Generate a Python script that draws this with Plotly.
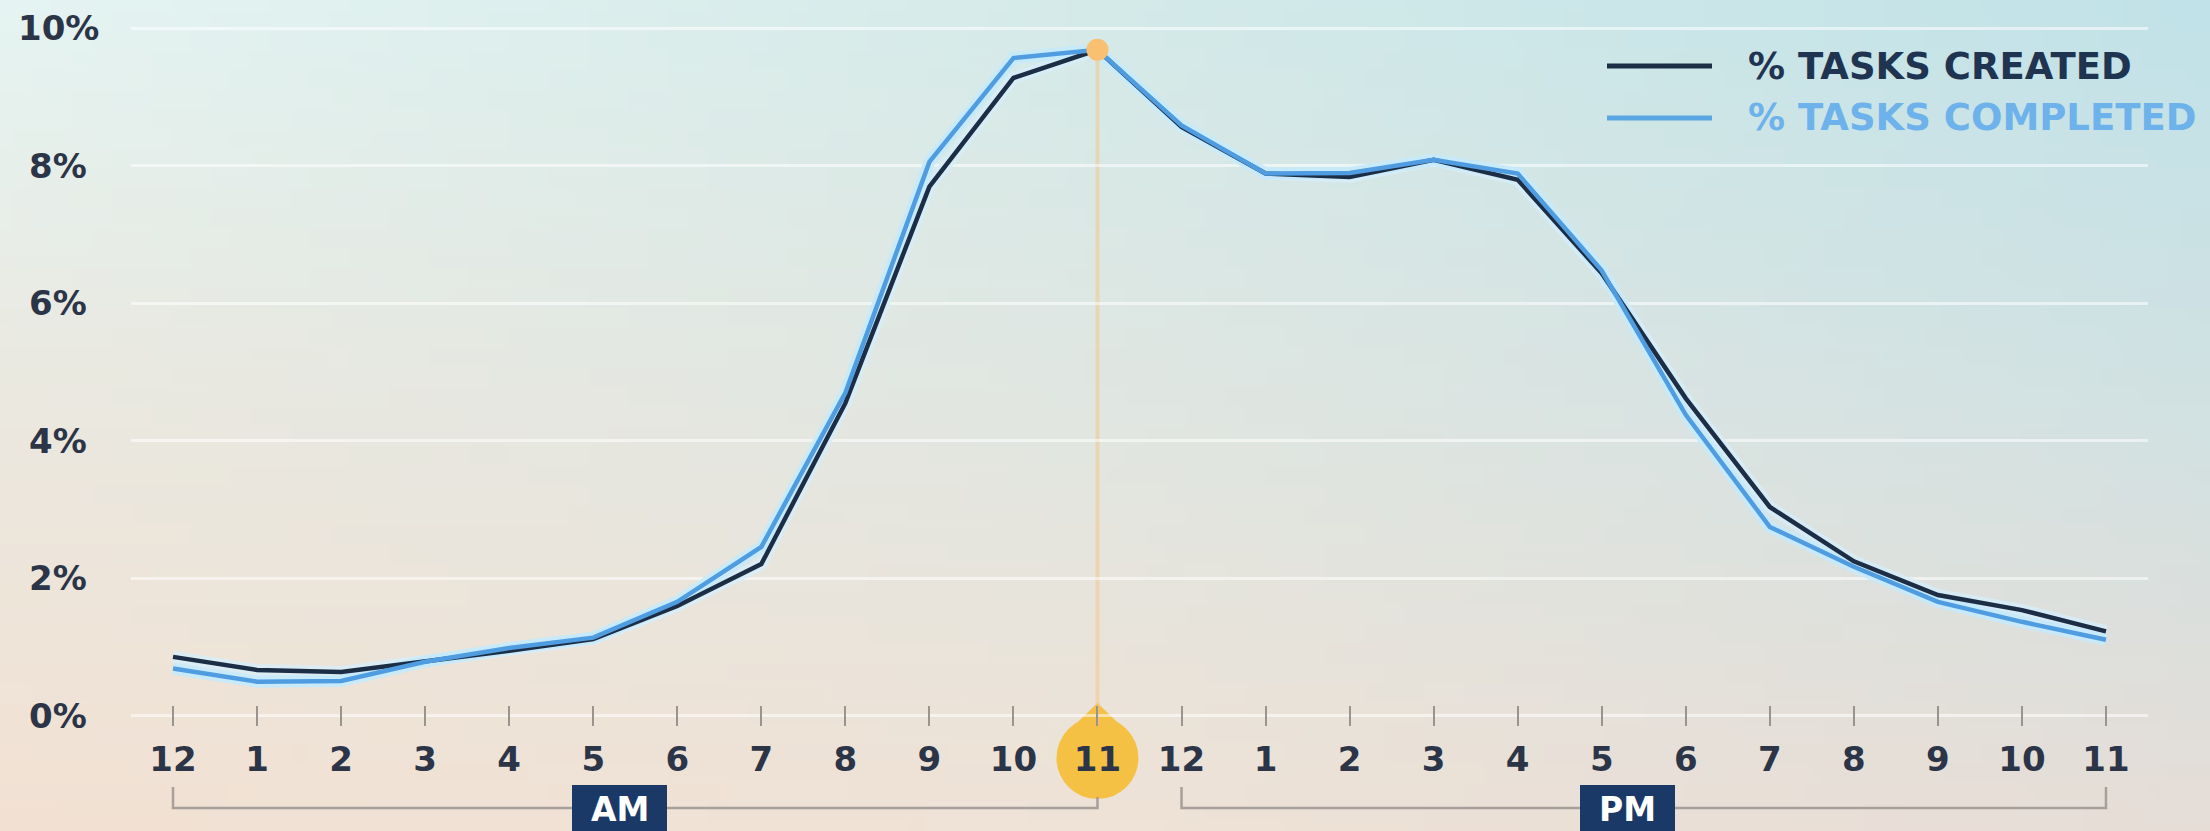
import base64
import struct
import zlib

import plotly.graph_objects as go

# ---- data -------------------------------------------------------------
hour_labels = ["12", "1", "2", "3", "4", "5", "6", "7", "8", "9", "10", "11",
               "12", "1", "2", "3", "4", "5", "6", "7", "8", "9", "10", "11"]
created_pct = [0.86, 0.67, 0.64, 0.79, 0.95, 1.12, 1.60, 2.21, 4.55, 7.70, 9.28, 9.69,
               8.57, 7.89, 7.84, 8.09, 7.80, 6.44, 4.62, 3.04, 2.25, 1.76, 1.54, 1.23]
completed_pct = [0.69, 0.50, 0.51, 0.79, 0.99, 1.14, 1.66, 2.46, 4.70, 8.06, 9.57, 9.69,
                 8.59, 7.89, 7.90, 8.09, 7.89, 6.48, 4.38, 2.75, 2.17, 1.66, 1.37, 1.11]
pct_ticks = [0, 2, 4, 6, 8, 10]
series_names = ["% TASKS CREATED", "% TASKS COMPLETED"]
period_labels = ["AM", "PM"]
peak_hour = 11

# ---- page geometry (pixels) -------------------------------------------
W, H = 2210, 831
PLOT_L, PLOT_R = 131, 2148
Y_MIN, Y_MAX = -0.15, 10.35
PX_PER_PCT = 68.75
ZERO_Y = 716
PLOT_T = ZERO_Y - Y_MAX * PX_PER_PCT
PLOT_B = ZERO_Y - Y_MIN * PX_PER_PCT

NAVY = "#1c2e46"
BLUE = "#4f9de0"
TEXT = "#2b3547"
FONT = "DejaVu Sans"


def px(x):
    return x / W


def py(y):
    return 1 - y / H


def cat_px(i):
    return PLOT_L + (i + 0.5) * (PLOT_R - PLOT_L) / len(hour_labels)


# ---- soft two-tone backdrop written as a tiny PNG ---------------------
def backdrop_uri(w=111, h=42):
    grid = [
        [(229, 244, 242), (212, 234, 233), (193, 226, 232)],
        [(235, 232, 223), (225, 230, 225), (210, 225, 226)],
        [(242, 225, 211), (239, 226, 214), (230, 221, 215)],
    ]

    def lerp(a, b, t):
        return tuple(a[k] + (b[k] - a[k]) * t for k in range(3))

    def sample(u, v):
        gx, gy = u * 2, v * 2
        ix, iy = min(int(gx), 1), min(int(gy), 1)
        tx, ty = gx - ix, gy - iy
        top = lerp(grid[iy][ix], grid[iy][ix + 1], tx)
        bot = lerp(grid[iy + 1][ix], grid[iy + 1][ix + 1], tx)
        return lerp(top, bot, ty)

    raw = bytearray()
    for r in range(h):
        raw.append(0)
        for c in range(w):
            col = sample(c / (w - 1), r / (h - 1))
            raw.extend(int(round(k)) for k in col)

    def chunk(tag, data):
        body = tag + data
        return struct.pack(">I", len(data)) + body + struct.pack(">I", zlib.crc32(body) & 0xFFFFFFFF)

    png = (b"\x89PNG\r\n\x1a\n"
           + chunk(b"IHDR", struct.pack(">IIBBBBB", w, h, 8, 2, 0, 0, 0))
           + chunk(b"IDAT", zlib.compress(bytes(raw), 9))
           + chunk(b"IEND", b""))
    return "data:image/png;base64," + base64.b64encode(png).decode()


x_idx = list(range(len(hour_labels)))

fig = go.Figure()

# pale glow under each line
fig.add_trace(go.Scatter(x=x_idx, y=created_pct, mode="lines", hoverinfo="skip",
                         line=dict(color="rgba(214,238,250,0.8)", width=12), showlegend=False))
fig.add_trace(go.Scatter(x=x_idx, y=completed_pct, mode="lines", hoverinfo="skip",
                         line=dict(color="rgba(196,234,252,0.9)", width=12), showlegend=False))
# series
fig.add_trace(go.Scatter(x=x_idx, y=created_pct, mode="lines", name=series_names[0],
                         line=dict(color=NAVY, width=4.5), showlegend=False))
fig.add_trace(go.Scatter(x=x_idx, y=completed_pct, mode="lines", name=series_names[1],
                         line=dict(color=BLUE, width=4.5), showlegend=False))
# highlighted peak
fig.add_trace(go.Scatter(x=[peak_hour], y=[completed_pct[peak_hour]], mode="markers",
                         marker=dict(color="#f8c070", size=22, line=dict(width=0)),
                         hoverinfo="skip", showlegend=False))

shapes = []
# guide from the peak down to the hour badge
shapes.append(dict(type="line", xref="x", yref="y", x0=peak_hour, x1=peak_hour,
                   y0=Y_MIN, y1=completed_pct[peak_hour], layer="below",
                   line=dict(color="rgba(246,192,125,0.45)", width=4)))

# teardrop badge behind the peak hour label
cx, cy, r, tip = cat_px(peak_hour), 758, 41, 703
shapes.append(dict(type="circle", xref="paper", yref="paper",
                   x0=px(cx - r), x1=px(cx + r), y0=py(cy + r), y1=py(cy - r),
                   fillcolor="#f5c145", line=dict(width=0), layer="below"))
shapes.append(dict(type="path", xref="paper", yref="paper", layer="below",
                   path=(f"M {px(cx)},{py(tip)} L {px(cx - 29)},{py(731)} "
                         f"L {px(cx + 29)},{py(731)} Z"),
                   fillcolor="#f5c145", line=dict(width=0)))

# AM / PM brackets
BR = "#a7a09a"
a0, a1, p0, p1 = cat_px(0), cat_px(11), cat_px(12), cat_px(23)
shapes.append(dict(type="path", xref="paper", yref="paper", layer="below",
                   path=(f"M {px(a0)},{py(787)} L {px(a0)},{py(808)} "
                         f"L {px(a1)},{py(808)} L {px(a1)},{py(797)}"),
                   fillcolor="rgba(0,0,0,0)", line=dict(color=BR, width=2.5)))
shapes.append(dict(type="path", xref="paper", yref="paper", layer="below",
                   path=(f"M {px(p0)},{py(787)} L {px(p0)},{py(808)} "
                         f"L {px(p1)},{py(808)} L {px(p1)},{py(787)}"),
                   fillcolor="rgba(0,0,0,0)", line=dict(color=BR, width=2.5)))

annotations = []
for label, bx in zip(period_labels, (572, 1580)):
    shapes.append(dict(type="rect", xref="paper", yref="paper",
                       x0=px(bx), x1=px(bx + 95), y0=py(840), y1=py(785),
                       fillcolor="#1a3966", line=dict(width=0), layer="below"))
    annotations.append(dict(xref="paper", yref="paper", x=px(bx + 47.5), y=py(809),
                            text=label, showarrow=False, xanchor="center", yanchor="middle",
                            font=dict(family=FONT, size=33, color="white", weight="bold")))

# y-axis percentage labels, centred in the left gutter
for v in pct_ticks:
    annotations.append(dict(xref="paper", yref="y", x=px(58), y=v, text=f"{v}%",
                            showarrow=False, xanchor="center", yanchor="middle",
                            font=dict(family=FONT, size=34, color=TEXT, weight="bold")))

# legend
for name, color, ly in zip(series_names, (NAVY, "#5aa6e3"), (66, 118)):
    shapes.append(dict(type="line", xref="paper", yref="paper",
                       x0=px(1607), x1=px(1712), y0=py(ly), y1=py(ly),
                       line=dict(color=color, width=5)))
    annotations.append(dict(xref="paper", yref="paper", x=px(1746), y=py(ly), text=name,
                            showarrow=False, xanchor="left", yanchor="middle",
                            font=dict(family=FONT, size=37,
                                      color="#1f3450" if color == NAVY else "#6db2ea",
                                      weight="bold")))

fig.update_layout(
    width=W, height=H,
    margin=dict(l=0, r=0, t=0, b=0, pad=0),
    paper_bgcolor="rgba(0,0,0,0)",
    plot_bgcolor="rgba(0,0,0,0)",
    images=[dict(source=backdrop_uri(), xref="paper", yref="paper", x=0, y=1,
                 sizex=1, sizey=1, xanchor="left", yanchor="top",
                 sizing="stretch", layer="below")],
    shapes=shapes,
    annotations=annotations,
    showlegend=False,
    hovermode=False,
    xaxis=dict(domain=[px(PLOT_L), px(PLOT_R)], range=[-0.5, len(hour_labels) - 0.5],
               tickmode="array", tickvals=x_idx, ticktext=hour_labels,
               ticks="inside", ticklen=20, tickwidth=1.5, tickcolor="#9a948e",
               ticklabelstandoff=10,
               tickfont=dict(family=FONT, size=34, color=TEXT, weight="bold"),
               showgrid=False, zeroline=False, showline=False, fixedrange=True),
    yaxis=dict(domain=[py(PLOT_B), py(PLOT_T)], range=[Y_MIN, Y_MAX],
               tickmode="array", tickvals=pct_ticks, showticklabels=False,
               showgrid=True, gridcolor="rgba(255,255,255,0.55)", gridwidth=3,
               zeroline=False, showline=False, fixedrange=True),
)

fig.write_html("out.html")
